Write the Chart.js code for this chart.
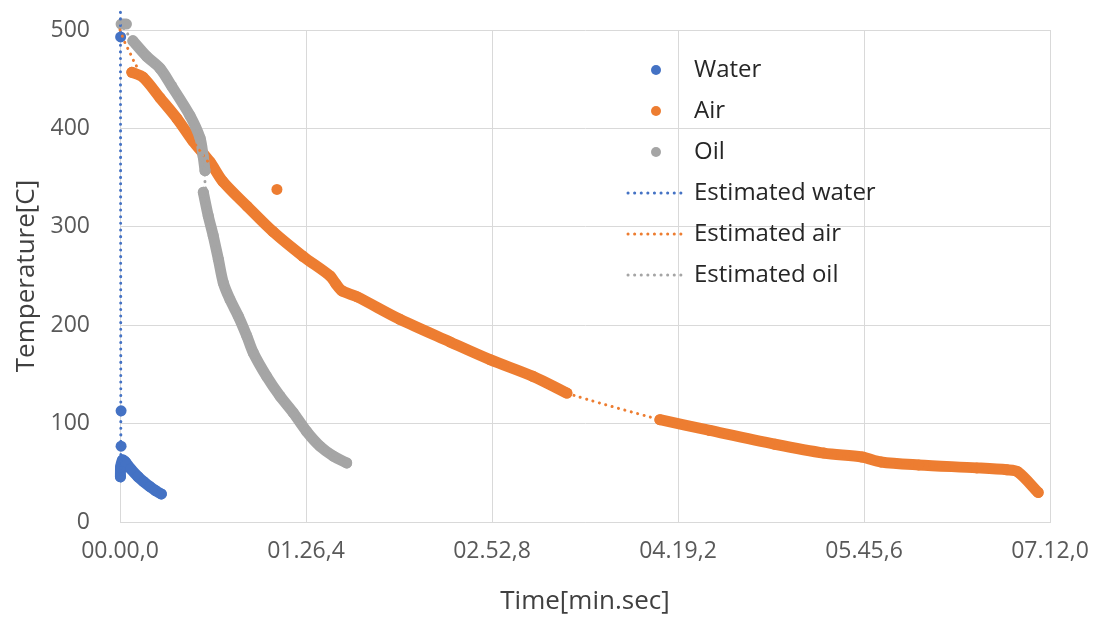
<!DOCTYPE html>
<html>
<head>
<meta charset="utf-8">
<script src="https://cdn.jsdelivr.net/npm/chart.js@4.4.1/dist/chart.umd.min.js"></script>
<style>
  html, body { margin: 0; padding: 0; background: #fff; }
  #wrap { width: 1098px; height: 617px; }
</style>
</head>
<body>
<div id="wrap"><canvas id="myChart"></canvas></div>
<script>
// time in seconds, temperature in C. null = break in the measured series
var waterTime = [0.3, null, 0.5, null, 0.5, null, 0.2, 0.3, 1.2, 2.5, 5.0, 8.4, 11.0, 13.9, 16.5, 19.2];
var waterTemp = [493, null, 113, null, 77, null, 46, 56, 63, 61, 54, 46, 41, 36, 32, 28.5];

var airTime = [5.5, 10.7, 18.6, 26.5, 33.9, 41.8, 47.8, 59.0, 71.1, 85.0, 97.6, 100.3, 103.1, 110, 130, 153.3, 171.9, 191.8, 207.6,
               null, 250.8, 274, 304.3, 327, 344.7, 353.5, 371, 398, 412, 417, 426.5, null, 72.9];
var airTemp = [457, 452, 431, 410, 387, 366, 346, 321, 295, 270, 250, 242, 235, 229, 206, 183, 165, 148, 131,
               null, 104, 93, 79, 70, 66, 61, 58, 55, 53, 51, 30, null, 338];

var oilTime = [0.5, 3.0, null, 6.0, 12.5, 18.6, 24.0, 32.5, 37.2, 38.6, 39.5, null,
               38.7, 41.0, 43.3, 45.7, 48.0, 51.1, 55.0, 58.9, 61.9, 68.1, 74.3, 80.5, 86.7, 92.9, 99.1, 105.3];
var oilTemp = [506, 506, null, 489, 473, 461, 443, 413, 390, 372, 357, null,
               335, 311, 291, 267, 243, 226, 209, 189, 172, 148, 128, 111, 92, 77, 67, 60];

var estWaterTime = [0.2, 0.4];
var estWaterTemp = [518, 40];

var estAirTime = [0, 2.3, 4.6, 6.5, 10.7, 18.6, 33.9, 47.8, 59, 71.1, 85, 103.1, 130, 153.3, 171.9, 191.8, 207.6, 250.8, 274, 304.3, 327, 353.5, 398, 417, 426.5];
var estAirTemp = [500, 487, 477, 468, 452, 431, 387, 346, 321, 295, 270, 235, 206, 183, 165, 148, 131, 104, 93, 79, 70, 61, 55, 51, 30];

var estOilTime = [0, 6, 18.6, 24, 32.5, 37.2, 39, 39.5, 41, 45.7, 51.1, 58.9, 68.1, 80.5, 92.9, 105.3];
var estOilTemp = [507, 489, 461, 443, 413, 390, 360, 345, 311, 267, 226, 189, 148, 111, 77, 60];

var xTickValues = [0, 86.4, 172.8, 259.2, 345.6, 432];
var xTickLabels = ['00.00,0', '01.26,4', '02.52,8', '04.19,2', '05.45,6', '07.12,0'];

var blue = '#4472C4', orange = '#ED7D31', gray = '#A5A5A5';

function pts(xs, ys) {
  return xs.map(function (x, i) { return {x: x, y: ys[i]}; });
}

function markDot(color) {
  var c = document.createElement('canvas');
  c.width = 52; c.height = 20;
  var g = c.getContext('2d');
  g.fillStyle = color;
  g.beginPath(); g.arc(26, 10, 5, 0, Math.PI * 2); g.fill();
  return c;
}
function markDotted(color) {
  var c = document.createElement('canvas');
  c.width = 60; c.height = 20;
  var g = c.getContext('2d');
  g.strokeStyle = color; g.lineWidth = 3; g.lineCap = 'round';
  g.setLineDash([0.1, 6.5]);
  g.beginPath(); g.moveTo(2, 10); g.lineTo(58, 10); g.stroke();
  return c;
}
var legendMarks = [markDot(blue), markDot(orange), markDot(gray), markDotted(blue), markDotted(orange), markDotted(gray)];

function measured(label, xs, ys, color, order) {
  return {
    label: label, data: pts(xs, ys), order: order,
    borderColor: color, backgroundColor: color,
    borderWidth: 11, borderCapStyle: 'round', borderJoinStyle: 'round',
    pointRadius: 5.5, pointHoverRadius: 5.5, pointBorderWidth: 0,
    spanGaps: false, tension: 0.3, clip: false
  };
}
function estimated(label, xs, ys, color, order) {
  return {
    label: label, data: pts(xs, ys), order: order,
    borderColor: color, backgroundColor: color,
    borderWidth: 3, borderDash: [0.1, 6.5], borderCapStyle: 'round',
    pointRadius: 0, tension: 0.2, clip: false
  };
}

// put the legend box inside the plot, top right
var moveLegend = {
  id: 'moveLegend',
  afterLayout: function (chart) {
    var l = chart.legend;
    l.left = 613; l.top = 41;
    l.right = l.left + l.width;
    l.bottom = l.top + 400;
  }
};

Chart.defaults.font.family = "'Open Sans', sans-serif";

new Chart('myChart', {
  type: 'line',
  data: {
    datasets: [
      measured('Water', waterTime, waterTemp, blue, 6),
      measured('Air', airTime, airTemp, orange, 5),
      measured('Oil', oilTime, oilTemp, gray, 4),
      estimated('Estimated water', estWaterTime, estWaterTemp, blue, 3),
      estimated('Estimated air', estAirTime, estAirTemp, orange, 2),
      estimated('Estimated oil', estOilTime, estOilTemp, gray, 1)
    ]
  },
  plugins: [moveLegend],
  options: {
    responsive: true,
    maintainAspectRatio: false,
    animation: false,
    layout: { padding: { top: 30, right: 48, left: 0, bottom: 0 } },
    plugins: {
      tooltip: { enabled: false },
      legend: {
        position: 'chartArea',
        align: 'start',
        labels: {
          usePointStyle: true,
          pointStyleWidth: 52,
          padding: 17,
          color: '#262626',
          font: { size: 24 },
          sort: function (a, b) { return a.datasetIndex - b.datasetIndex; },
          generateLabels: function (chart) {
            var items = Chart.defaults.plugins.legend.labels.generateLabels(chart);
            items.forEach(function (it) { it.pointStyle = legendMarks[it.datasetIndex]; });
            return items;
          }
        }
      }
    },
    scales: {
      x: {
        type: 'linear',
        min: 0, max: 432,
        afterBuildTicks: function (s) { s.ticks = xTickValues.map(function (v) { return {value: v}; }); },
        afterFit: function (s) { s.height = 95; },
        ticks: {
          padding: 2,
          color: '#595959',
          font: { size: 23 },
          maxRotation: 0,
          callback: function (v, i) { return xTickLabels[i]; }
        },
        grid: { color: '#d9d9d9', drawTicks: true, tickLength: 14, tickColor: 'rgba(0,0,0,0)' },
        border: { color: '#d9d9d9' },
        title: { display: true, text: 'Time[min.sec]', color: '#404040', font: { size: 26 }, padding: { top: 0, bottom: 0 } }
      },
      y: {
        min: 0, max: 500,
        afterFit: function (s) { s.width = 120; },
        ticks: { stepSize: 100, padding: 2, color: '#595959', font: { size: 23 } },
        grid: { color: '#d9d9d9', drawTicks: true, tickLength: 28, tickColor: 'rgba(0,0,0,0)' },
        border: { color: '#d9d9d9' },
        title: { display: true, text: 'Temperature[C]', color: '#404040', font: { size: 26 }, padding: { top: 11, bottom: 0 } }
      }
    }
  }
});
</script>
</body>
</html>
